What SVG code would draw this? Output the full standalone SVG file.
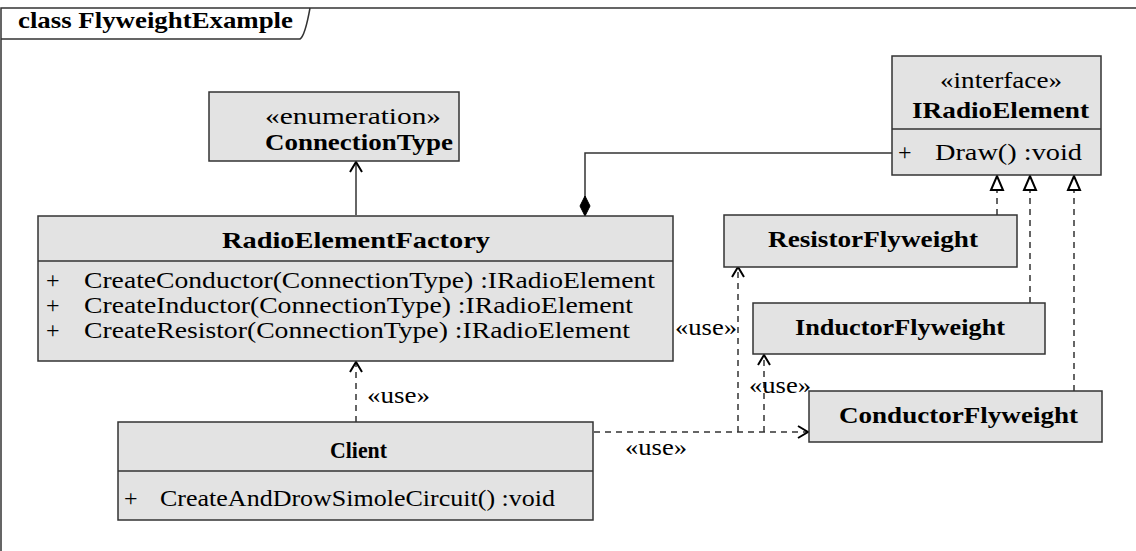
<svg xmlns="http://www.w3.org/2000/svg" width="1136" height="551" viewBox="0 0 1136 551">
<style>
.box{fill:#e3e3e3;stroke:#333;stroke-width:1.5}
.sep{stroke:#333;stroke-width:1.5}
.t{font-size:24px;fill:#000}
.b{font-weight:bold}
.line{fill:none;stroke:#333;stroke-width:1.5}
.dash{fill:none;stroke:#333;stroke-width:1.5;stroke-dasharray:6,5}
</style>
<defs>
<marker id="open" markerWidth="14" markerHeight="14" refX="12" refY="7" orient="auto" markerUnits="userSpaceOnUse">
<path d="M2,1 L12,7 L2,13" fill="none" stroke="#000" stroke-width="2"/>
</marker>
<marker id="tri" markerWidth="18" markerHeight="16" refX="16" refY="8" orient="auto" markerUnits="userSpaceOnUse">
<path d="M2,2 L16,8 L2,14 Z" fill="#fff" stroke="#000" stroke-width="2"/>
</marker>
<marker id="diamond" markerWidth="24" markerHeight="14" refX="22" refY="7" orient="auto" markerUnits="userSpaceOnUse">
<path d="M2,7 L12,2 L22,7 L12,12 Z" fill="#000" stroke="#000" stroke-width="1"/>
</marker>
</defs>
<rect width="1136" height="551" fill="#fff"/>
<g font-family="Liberation Serif, Times New Roman, serif">
<g id="frame">
<path d="M1,551 L1,8 L1136,8" class="line"/>
<path d="M1,39 L300,39 Q305,36 310,8" class="line"/>
<text x="18" y="28" class="t b" textLength="275" lengthAdjust="spacingAndGlyphs">class FlyweightExample</text>
</g>
<g id="connectors">
<path d="M356,215 L356,162" class="line" marker-end="url(#open)"/>
<path d="M892,153 L585,153 L585,216" class="line" marker-end="url(#diamond)"/>
<path d="M997,215 L997,176" class="dash" marker-end="url(#tri)"/>
<path d="M1030,303 L1030,176" class="dash" marker-end="url(#tri)"/>
<path d="M1074,391 L1074,176" class="dash" marker-end="url(#tri)"/>
<path d="M356,422 L356,362" class="dash" marker-end="url(#open)"/>
<path d="M594,432 L808,432" class="dash" marker-end="url(#open)"/>
<path d="M738,432 L738,267" class="dash" marker-end="url(#open)"/>
<path d="M764,432 L764,355" class="dash" marker-end="url(#open)"/>
<text x="367" y="403" class="t" textLength="63" lengthAdjust="spacingAndGlyphs">«use»</text>
<text x="675" y="335" class="t" textLength="62" lengthAdjust="spacingAndGlyphs">«use»</text>
<text x="749" y="393" class="t" textLength="62" lengthAdjust="spacingAndGlyphs">«use»</text>
<text x="625" y="455" class="t" textLength="62" lengthAdjust="spacingAndGlyphs">«use»</text>
</g>
<g id="ConnectionType">
<rect x="209" y="92" width="250" height="69" class="box"/>
<text x="265" y="124" class="t" textLength="176" lengthAdjust="spacingAndGlyphs">«enumeration»</text>
<text x="265" y="150" class="t b" textLength="188" lengthAdjust="spacingAndGlyphs">ConnectionType</text>
</g>
<g id="IRadioElement">
<rect x="892" y="56" width="209" height="119" class="box"/>
<line x1="892" y1="129" x2="1101" y2="129" class="sep"/>
<text x="940" y="88" class="t" textLength="122" lengthAdjust="spacingAndGlyphs">«interface»</text>
<text x="912" y="118" class="t b" textLength="177" lengthAdjust="spacingAndGlyphs">IRadioElement</text>
<text x="898" y="160" class="t">+</text>
<text x="935" y="160" class="t" textLength="147" lengthAdjust="spacingAndGlyphs">Draw()  :void</text>
</g>
<g id="RadioElementFactory">
<rect x="38" y="216" width="635" height="145" class="box"/>
<line x1="38" y1="261" x2="673" y2="261" class="sep"/>
<text x="222" y="248" class="t b" textLength="268" lengthAdjust="spacingAndGlyphs">RadioElementFactory</text>
<text x="46" y="288" class="t">+</text>
<text x="84" y="288" class="t" textLength="571" lengthAdjust="spacingAndGlyphs">CreateConductor(ConnectionType)  :IRadioElement</text>
<text x="46" y="313" class="t">+</text>
<text x="84" y="313" class="t" textLength="549" lengthAdjust="spacingAndGlyphs">CreateInductor(ConnectionType)  :IRadioElement</text>
<text x="46" y="338" class="t">+</text>
<text x="84" y="338" class="t" textLength="546" lengthAdjust="spacingAndGlyphs">CreateResistor(ConnectionType)  :IRadioElement</text>
</g>
<g id="ResistorFlyweight">
<rect x="724" y="215" width="293" height="52" class="box"/>
<text x="768" y="247" class="t b" textLength="210" lengthAdjust="spacingAndGlyphs">ResistorFlyweight</text>
</g>
<g id="InductorFlyweight">
<rect x="753" y="303" width="292" height="51" class="box"/>
<text x="795" y="335" class="t b" textLength="210" lengthAdjust="spacingAndGlyphs">InductorFlyweight</text>
</g>
<g id="ConductorFlyweight">
<rect x="809" y="391" width="293" height="51" class="box"/>
<text x="839" y="423" class="t b" textLength="239" lengthAdjust="spacingAndGlyphs">ConductorFlyweight</text>
</g>
<g id="Client">
<rect x="118" y="422" width="475" height="98" class="box"/>
<line x1="118" y1="471" x2="593" y2="471" class="sep"/>
<text x="330" y="458" class="t b" textLength="57" lengthAdjust="spacingAndGlyphs">Client</text>
<text x="124" y="506" class="t">+</text>
<text x="160" y="506" class="t" textLength="395" lengthAdjust="spacingAndGlyphs">CreateAndDrowSimoleCircuit()  :void</text>
</g>
</g>
</svg>
